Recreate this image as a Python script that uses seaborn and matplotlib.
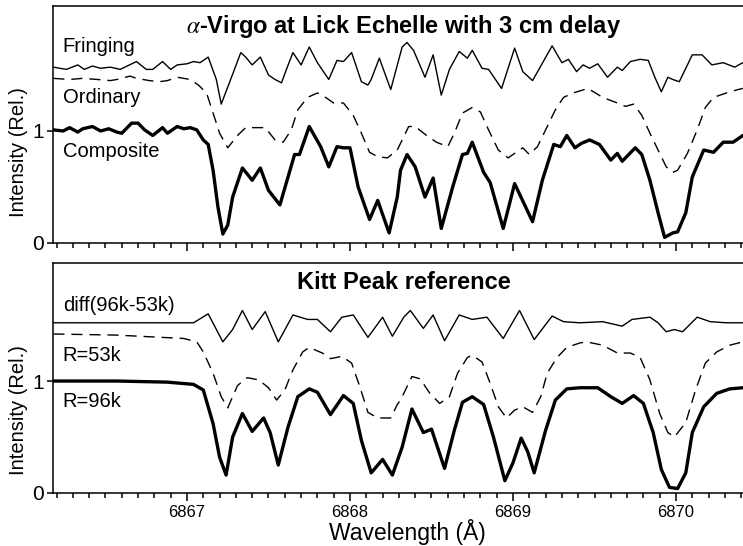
import numpy as np
import pandas as pd
import matplotlib
matplotlib.use("Agg")
import matplotlib.pyplot as plt
from matplotlib.ticker import MultipleLocator
import seaborn as sns

# --- Lick Echelle (top panel): (wavelength [A], relative intensity) ---
fringing = [
    (6866.18, 1.57), (6866.26, 1.55), (6866.33, 1.59), (6866.37, 1.55), (6866.42, 1.58),
    (6866.47, 1.56), (6866.53, 1.57), (6866.59, 1.55), (6866.69, 1.62), (6866.75, 1.55),
    (6866.79, 1.55), (6866.85, 1.62), (6866.90, 1.55), (6866.94, 1.59), (6867.00, 1.60),
    (6867.04, 1.62), (6867.08, 1.61), (6867.13, 1.66), (6867.18, 1.46), (6867.21, 1.24),
    (6867.26, 1.43), (6867.33, 1.70), (6867.36, 1.66), (6867.40, 1.59), (6867.45, 1.66),
    (6867.50, 1.50), (6867.54, 1.46), (6867.58, 1.43), (6867.61, 1.55), (6867.65, 1.70),
    (6867.70, 1.59), (6867.75, 1.75), (6867.80, 1.61), (6867.87, 1.46), (6867.92, 1.63),
    (6867.96, 1.62), (6868.01, 1.70), (6868.07, 1.44), (6868.11, 1.41), (6868.13, 1.46),
    (6868.18, 1.65), (6868.25, 1.37), (6868.32, 1.75), (6868.35, 1.79), (6868.39, 1.72),
    (6868.46, 1.48), (6868.51, 1.68), (6868.56, 1.32), (6868.61, 1.55), (6868.67, 1.71),
    (6868.72, 1.65), (6868.75, 1.72), (6868.81, 1.56), (6868.85, 1.55), (6868.93, 1.38),
    (6869.01, 1.74), (6869.06, 1.53), (6869.12, 1.45), (6869.24, 1.76), (6869.30, 1.61),
    (6869.34, 1.64), (6869.39, 1.53), (6869.43, 1.59), (6869.47, 1.56), (6869.52, 1.60),
    (6869.58, 1.48), (6869.64, 1.57), (6869.67, 1.54), (6869.72, 1.62), (6869.78, 1.64),
    (6869.83, 1.63), (6869.87, 1.48), (6869.91, 1.35), (6869.95, 1.48), (6869.98, 1.46),
    (6870.02, 1.44), (6870.10, 1.68), (6870.16, 1.68), (6870.22, 1.59), (6870.29, 1.61),
    (6870.36, 1.57), (6870.41, 1.61),
]
ordinary = [
    (6866.18, 1.47), (6866.28, 1.46), (6866.36, 1.47), (6866.45, 1.46), (6866.53, 1.45),
    (6866.57, 1.46), (6866.65, 1.49), (6866.69, 1.47), (6866.77, 1.45), (6866.83, 1.44),
    (6866.88, 1.45), (6866.94, 1.48), (6867.02, 1.46), (6867.07, 1.41), (6867.12, 1.34),
    (6867.16, 1.16), (6867.20, 0.98), (6867.25, 0.85), (6867.31, 0.96), (6867.36, 1.03),
    (6867.43, 1.03), (6867.48, 1.03), (6867.54, 0.92), (6867.59, 0.90), (6867.64, 1.01),
    (6867.68, 1.19), (6867.74, 1.30), (6867.80, 1.34), (6867.85, 1.30), (6867.90, 1.25),
    (6867.96, 1.25), (6868.02, 1.14), (6868.07, 0.98), (6868.12, 0.81), (6868.17, 0.77),
    (6868.23, 0.76), (6868.29, 0.83), (6868.34, 0.98), (6868.36, 1.04), (6868.40, 1.04),
    (6868.47, 0.96), (6868.53, 0.90), (6868.60, 0.86), (6868.64, 0.98), (6868.69, 1.16),
    (6868.75, 1.21), (6868.80, 1.17), (6868.85, 1.01), (6868.91, 0.83), (6868.97, 0.76),
    (6869.06, 0.85), (6869.10, 0.79), (6869.15, 0.86), (6869.21, 1.04), (6869.26, 1.19),
    (6869.31, 1.30), (6869.37, 1.34), (6869.46, 1.38), (6869.55, 1.30), (6869.64, 1.25),
    (6869.69, 1.22), (6869.74, 1.24), (6869.79, 1.14), (6869.84, 0.98), (6869.89, 0.83),
    (6869.94, 0.68), (6869.98, 0.63), (6870.01, 0.65), (6870.07, 0.80), (6870.13, 1.01),
    (6870.18, 1.21), (6870.23, 1.30), (6870.31, 1.34), (6870.38, 1.37), (6870.41, 1.38),
]
composite = [
    (6866.18, 1.01), (6866.24, 1.00), (6866.28, 1.03), (6866.33, 0.99), (6866.36, 1.02),
    (6866.42, 1.04), (6866.47, 1.00), (6866.52, 1.02), (6866.57, 0.99), (6866.60, 0.98),
    (6866.66, 1.07), (6866.70, 1.07), (6866.74, 1.01), (6866.79, 0.96), (6866.85, 1.03),
    (6866.88, 0.98), (6866.94, 1.04), (6866.98, 1.02), (6867.02, 1.03), (6867.06, 1.01),
    (6867.10, 0.92), (6867.13, 0.88), (6867.16, 0.65), (6867.19, 0.32), (6867.22, 0.08),
    (6867.25, 0.16), (6867.28, 0.41), (6867.34, 0.67), (6867.40, 0.56), (6867.45, 0.67),
    (6867.50, 0.47), (6867.57, 0.34), (6867.61, 0.54), (6867.66, 0.79), (6867.69, 0.79),
    (6867.75, 1.04), (6867.82, 0.86), (6867.87, 0.68), (6867.92, 0.86), (6867.96, 0.85),
    (6868.00, 0.85), (6868.05, 0.50), (6868.12, 0.21), (6868.17, 0.38), (6868.24, 0.09),
    (6868.29, 0.41), (6868.31, 0.65), (6868.35, 0.79), (6868.40, 0.68), (6868.46, 0.41),
    (6868.51, 0.58), (6868.56, 0.13), (6868.63, 0.50), (6868.69, 0.79), (6868.72, 0.80),
    (6868.75, 0.90), (6868.82, 0.63), (6868.86, 0.54), (6868.94, 0.13), (6869.01, 0.53),
    (6869.12, 0.19), (6869.18, 0.56), (6869.25, 0.88), (6869.29, 0.86), (6869.33, 0.96),
    (6869.38, 0.85), (6869.42, 0.89), (6869.47, 0.92), (6869.53, 0.88), (6869.60, 0.74),
    (6869.64, 0.80), (6869.67, 0.73), (6869.75, 0.85), (6869.79, 0.79), (6869.84, 0.56),
    (6869.89, 0.27), (6869.93, 0.05), (6869.98, 0.09), (6870.01, 0.10), (6870.06, 0.27),
    (6870.10, 0.59), (6870.17, 0.83), (6870.23, 0.81), (6870.29, 0.90), (6870.35, 0.90),
    (6870.41, 0.96),
]

# --- Kitt Peak reference (bottom panel) ---
diff_96_53 = [
    (6866.18, 1.52), (6866.80, 1.52), (6867.04, 1.52), (6867.13, 1.60), (6867.22, 1.35),
    (6867.28, 1.46), (6867.34, 1.63), (6867.40, 1.46), (6867.48, 1.62), (6867.56, 1.35),
    (6867.65, 1.59), (6867.74, 1.55), (6867.80, 1.55), (6867.88, 1.44), (6867.95, 1.57),
    (6868.02, 1.59), (6868.11, 1.39), (6868.20, 1.57), (6868.26, 1.40), (6868.33, 1.57),
    (6868.37, 1.63), (6868.45, 1.47), (6868.51, 1.59), (6868.58, 1.36), (6868.67, 1.59),
    (6868.75, 1.55), (6868.84, 1.57), (6868.94, 1.38), (6869.04, 1.63), (6869.13, 1.37),
    (6869.24, 1.58), (6869.31, 1.53), (6869.41, 1.52), (6869.55, 1.53), (6869.67, 1.49),
    (6869.73, 1.55), (6869.84, 1.57), (6869.89, 1.52), (6869.94, 1.44), (6869.99, 1.46),
    (6870.04, 1.44), (6870.13, 1.57), (6870.21, 1.53), (6870.31, 1.52), (6870.41, 1.52),
]
r53k = [
    (6866.18, 1.42), (6866.57, 1.41), (6866.98, 1.38), (6867.06, 1.35), (6867.10, 1.26),
    (6867.16, 1.07), (6867.21, 0.86), (6867.25, 0.76), (6867.31, 0.96), (6867.37, 1.03),
    (6867.44, 1.01), (6867.50, 0.94), (6867.55, 0.83), (6867.60, 0.92), (6867.65, 1.10),
    (6867.71, 1.26), (6867.75, 1.30), (6867.83, 1.25), (6867.88, 1.20), (6867.95, 1.22),
    (6868.01, 1.16), (6868.06, 0.95), (6868.11, 0.72), (6868.17, 0.67), (6868.25, 0.67),
    (6868.29, 0.79), (6868.31, 0.83), (6868.38, 1.04), (6868.43, 1.02), (6868.49, 0.89),
    (6868.55, 0.80), (6868.61, 0.86), (6868.66, 1.07), (6868.72, 1.21), (6868.75, 1.23),
    (6868.81, 1.17), (6868.86, 0.98), (6868.91, 0.77), (6868.96, 0.67), (6869.01, 0.74),
    (6869.06, 0.77), (6869.12, 0.72), (6869.17, 0.86), (6869.21, 1.07), (6869.27, 1.21),
    (6869.33, 1.30), (6869.41, 1.34), (6869.45, 1.35), (6869.55, 1.32), (6869.64, 1.25),
    (6869.72, 1.25), (6869.78, 1.21), (6869.84, 1.01), (6869.90, 0.71), (6869.95, 0.54),
    (6869.99, 0.50), (6870.06, 0.63), (6870.12, 0.92), (6870.18, 1.16), (6870.25, 1.26),
    (6870.33, 1.32), (6870.41, 1.35),
]
r96k = [
    (6866.18, 1.00), (6866.57, 1.00), (6866.88, 0.99), (6867.04, 0.97), (6867.10, 0.92),
    (6867.16, 0.62), (6867.20, 0.32), (6867.24, 0.16), (6867.28, 0.50), (6867.34, 0.71),
    (6867.40, 0.55), (6867.47, 0.67), (6867.51, 0.54), (6867.56, 0.25), (6867.62, 0.59),
    (6867.68, 0.86), (6867.75, 0.93), (6867.80, 0.90), (6867.88, 0.70), (6867.96, 0.87),
    (6868.02, 0.80), (6868.07, 0.47), (6868.13, 0.18), (6868.20, 0.30), (6868.26, 0.16),
    (6868.32, 0.41), (6868.38, 0.75), (6868.45, 0.54), (6868.50, 0.57), (6868.58, 0.22),
    (6868.64, 0.56), (6868.69, 0.81), (6868.75, 0.86), (6868.82, 0.79), (6868.88, 0.50),
    (6868.95, 0.11), (6869.00, 0.27), (6869.05, 0.49), (6869.09, 0.37), (6869.13, 0.18),
    (6869.20, 0.56), (6869.26, 0.83), (6869.33, 0.93), (6869.41, 0.94), (6869.52, 0.94),
    (6869.60, 0.86), (6869.67, 0.80), (6869.74, 0.87), (6869.80, 0.80), (6869.86, 0.54),
    (6869.91, 0.21), (6869.96, 0.05), (6870.01, 0.04), (6870.06, 0.18), (6870.10, 0.54),
    (6870.17, 0.77), (6870.25, 0.89), (6870.33, 0.93), (6870.41, 0.94),
]


def to_df(pairs):
    return pd.DataFrame(pairs, columns=["wavelength", "intensity"])


sns.set_theme(style="ticks")
plt.rcParams["font.family"] = ["Liberation Sans", "DejaVu Sans"]
plt.rcParams["mathtext.fontset"] = "stix"
for key in ["text.color", "axes.labelcolor", "xtick.color", "ytick.color", "axes.edgecolor"]:
    plt.rcParams[key] = "black"

fig = plt.figure(figsize=(7.43, 5.46), dpi=100)
ax_top = fig.add_axes([53 / 743, 303 / 546, 690 / 743, 237 / 546])
ax_bot = fig.add_axes([53 / 743, 53 / 546, 690 / 743, 230 / 546])

thin = 1.0
thick = 2.4
dash = (0, (8, 5))

panels = [
    (ax_top, [(fringing, thin, False), (ordinary, thin, True), (composite, thick, False)],
     ["Fringing", "Ordinary", "Composite"], [0.806, 0.591, 0.363],
     r"$\alpha$-Virgo at Lick Echelle with 3 cm delay", 2.116),
    (ax_bot, [(diff_96_53, thin, False), (r53k, thin, True), (r96k, thick, False)],
     ["diff(96k-53k)", "R=53k", "R=96k"], [0.791, 0.574, 0.374],
     "Kitt Peak reference", 2.054),
]

for ax, curves, names, ypos, title, ytop in panels:
    for pairs, lw, dashed in curves:
        sns.lineplot(data=to_df(pairs), x="wavelength", y="intensity", ax=ax,
                     color="black", linewidth=lw)
        line = ax.lines[-1]
        line.set_solid_joinstyle("round")
        if dashed:
            line.set_linestyle(dash)
    for name, yp in zip(names, ypos):
        ax.text(0.014, yp, name, transform=ax.transAxes, fontsize=14.5,
                ha="left", va="baseline")
    ax.text(0.508, 0.887, title, transform=ax.transAxes, fontsize=17,
            fontweight="bold", ha="center", va="baseline")

    ax.set_xlim(6866.178, 6870.411)
    ax.set_ylim(0, ytop)
    ax.set_yticks([0, 1])
    ax.set_yticklabels(["0", "1"])
    ax.xaxis.set_major_locator(MultipleLocator(1))
    ax.xaxis.set_minor_locator(MultipleLocator(0.1))
    ax.tick_params(axis="x", which="major", direction="out", length=6, width=1.1,
                   labelsize=12, pad=2.5)
    ax.tick_params(axis="x", which="minor", direction="out", length=3.5, width=1.1)
    ax.tick_params(axis="y", direction="out", length=4.5, width=1.1, labelsize=15, pad=2)
    ax.spines["right"].set_visible(False)
    for side in ["left", "bottom", "top"]:
        ax.spines[side].set_linewidth(1.1)
    ax.set_xlabel("")
    ax.set_ylabel("Intensity (Rel.)", fontsize=14.5)

ax_top.tick_params(axis="x", labelbottom=False)
ax_top.yaxis.set_label_coords(-0.036, 0.384)
ax_bot.yaxis.set_label_coords(-0.036, 0.361)
ax_bot.set_xlabel("Wavelength (Å)", fontsize=16.5, labelpad=0)
ax_bot.xaxis.set_label_coords(0.514, -0.112)

fig.savefig("out.png", dpi=100)
